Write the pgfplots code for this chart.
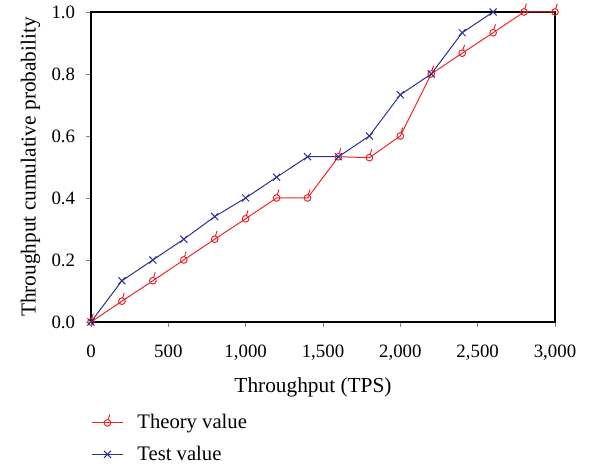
\documentclass[border=0pt]{standalone}
\usepackage{pgfplots}
\pgfplotsset{compat=1.18}
\usepackage{fontspec}
\setmainfont{Liberation Serif}
\definecolor{cred}{RGB}{238,36,40}
\definecolor{cblue}{RGB}{45,50,145}
\pgfdeclareplotmark{circtick}{%
  \pgfpathcircle{\pgfpointorigin}{\pgfplotmarksize}\pgfusepathqstroke
  \pgfpathmoveto{\pgfqpoint{0.2\pgfplotmarksize}{0.95\pgfplotmarksize}}%
  \pgfpathlineto{\pgfqpoint{0.7\pgfplotmarksize}{2.5\pgfplotmarksize}}\pgfusepathqstroke}
\begin{document}
\begin{tikzpicture}
\begin{axis}[
  scale only axis,
  width=278.4pt, height=186pt,
  xmin=0, xmax=3000, ymin=0, ymax=1,
  xtick={0,500,...,3000},
  ytick={0,0.2,...,1.0},
  xtick pos=left, ytick pos=left,
  tick align=outside,
  major tick length=3pt,
  /pgf/number format/assume math mode=true,
  /pgf/number format/1000 sep={,},
  yticklabel style={/pgf/number format/fixed,/pgf/number format/fixed zerofill,/pgf/number format/precision=1, xshift=-3pt},
  xticklabel style={yshift=-7pt},
  scaled x ticks=false,
  tick label style={font=\fontsize{11.3}{13}\selectfont},
  label style={font=\fontsize{12.8}{15}\selectfont},
  xlabel style={xshift=-6pt, yshift=-4pt},
  xlabel={Throughput (TPS)},
  ylabel={Throughput cumulative probability},
  axis line style={line width=0.7pt},
  clip=false,
  legend cell align=left,
  legend style={draw=none, fill=none, at={(0,-0.3)}, anchor=north west, xshift=-3pt, yshift=4.5pt,
    font=\fontsize{12.4}{15}\selectfont, row sep=4.8pt},
  legend image code/.code={\draw[mark repeat=2,mark phase=2,#1] plot coordinates {(0cm,0cm)(0.33cm,0cm)(0.66cm,0cm)};\path (0.88cm,0cm);},
]
\addplot[color=cred, line width=0.6pt, mark=circtick, mark size=2pt] coordinates {
(0,0) (200,0.067) (400,0.133) (600,0.2) (800,0.267) (1000,0.333) (1200,0.4) (1400,0.4)
(1600,0.533) (1800,0.53) (2000,0.6) (2200,0.8) (2400,0.867) (2600,0.933) (2800,1.0) (3000,1.0)};
\addlegendentry{Theory value}
\addplot[color=cblue, line width=0.6pt, mark=x, mark size=3pt] coordinates {
(0,0) (200,0.133) (400,0.2) (600,0.267) (800,0.34) (1000,0.4) (1200,0.467) (1400,0.533)
(1600,0.533) (1800,0.6) (2000,0.733) (2200,0.8) (2400,0.933) (2600,1.0)};
\addlegendentry{Test value}
\path (rel axis cs:0,0) ++(-54.6pt,-87.6pt) coordinate (bbsw);
\path (rel axis cs:1,1) ++(23.4pt,6pt) coordinate (bbne);
\end{axis}
\path (bbsw) rectangle (bbne);
\end{tikzpicture}
\end{document}
